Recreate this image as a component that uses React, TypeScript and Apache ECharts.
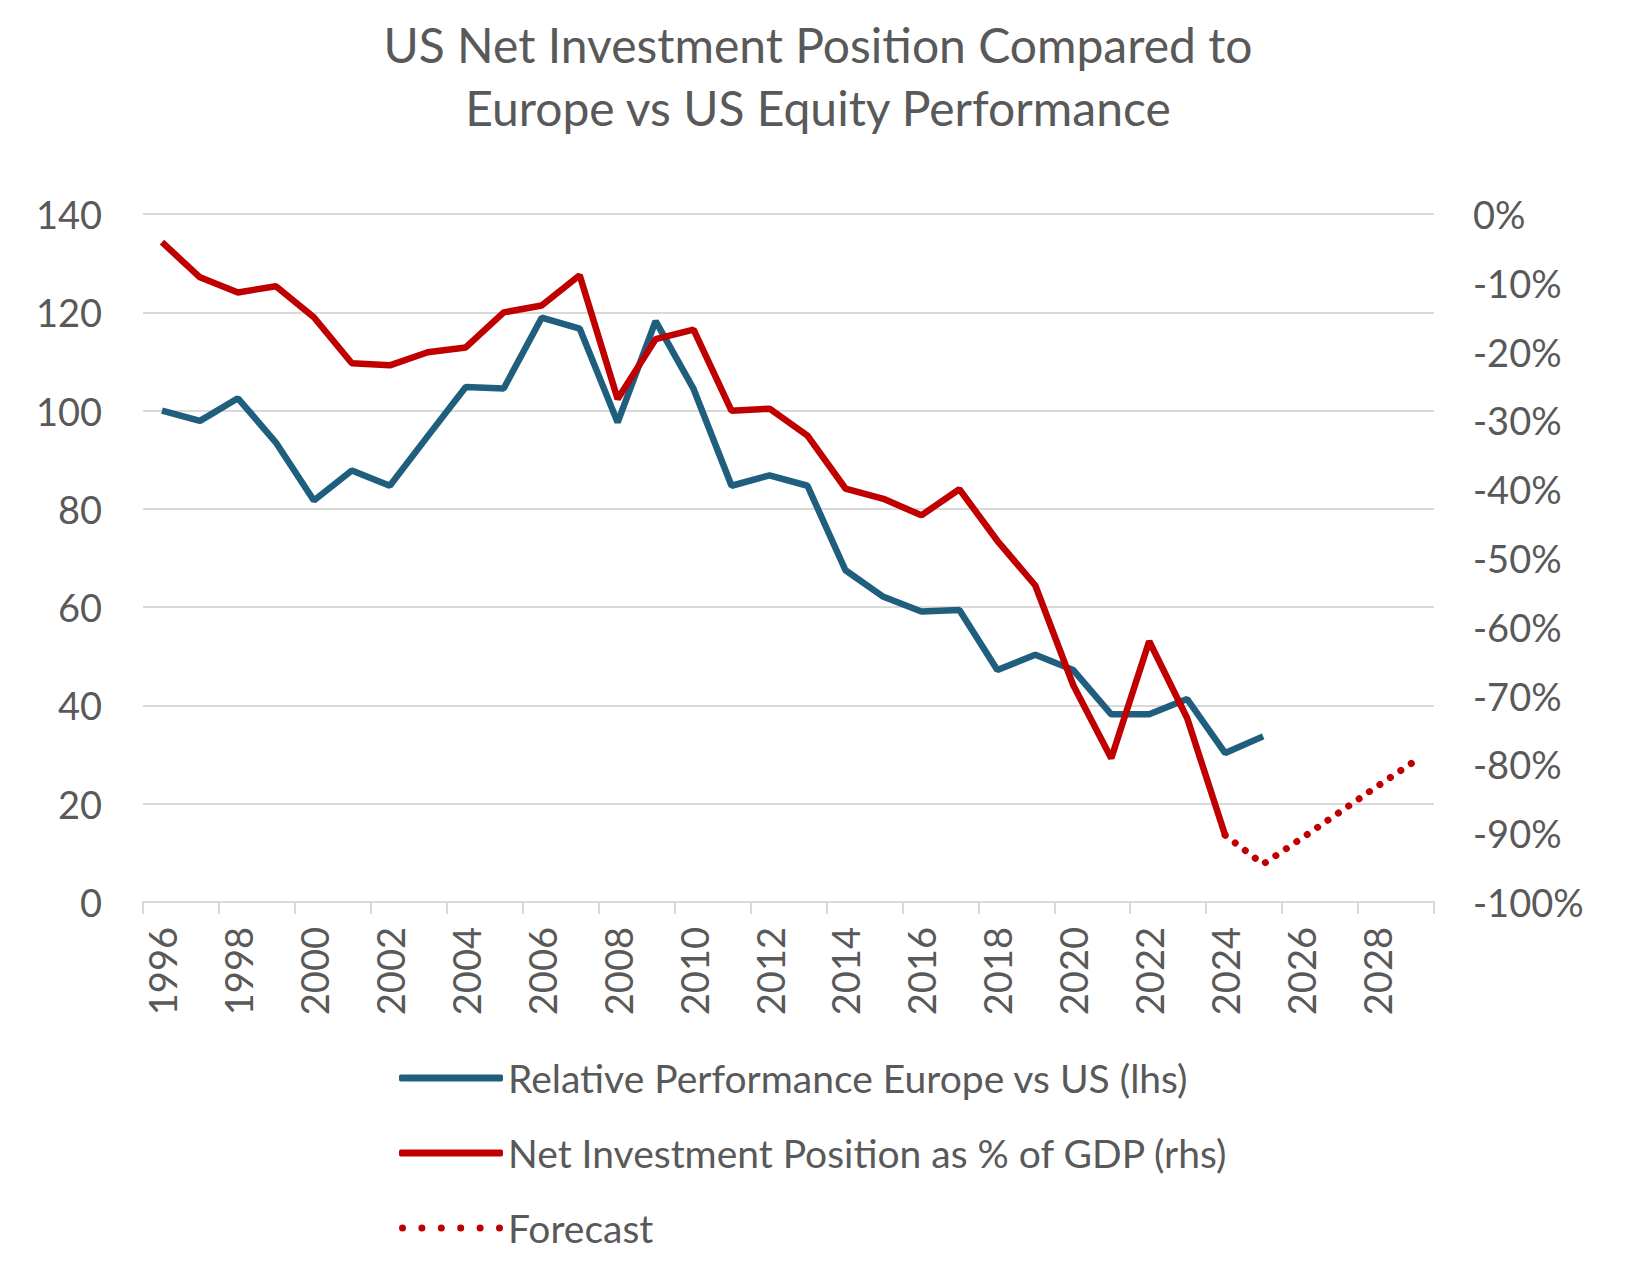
import React, { useEffect, useRef } from "react";
import * as echarts from "echarts";

const years = [
  "1996", "1997", "1998", "1999", "2000", "2001", "2002", "2003", "2004", "2005",
  "2006", "2007", "2008", "2009", "2010", "2011", "2012", "2013", "2014", "2015",
  "2016", "2017", "2018", "2019", "2020", "2021", "2022", "2023", "2024", "2025",
  "2026", "2027", "2028", "2029",
];

// Relative Performance Europe vs US (lhs), 1996–2025
const relativePerformance = [
  100.0, 97.9, 102.5, 93.5, 81.7, 87.8, 84.7, 94.8, 104.8, 104.5,
  118.9, 116.7, 97.6, 118.2, 104.4, 84.7, 86.8, 84.7, 67.5, 62.1,
  59.1, 59.4, 47.2, 50.3, 47.2, 38.2, 38.2, 41.3, 30.3, 33.7,
];

// Net Investment Position as % of GDP (rhs), 1996–2024
const netInvestment = [
  -4.1, -9.2, -11.4, -10.5, -15.0, -21.7, -22.0, -20.1, -19.4, -14.3,
  -13.3, -8.9, -26.9, -18.2, -16.8, -28.6, -28.3, -32.2, -39.9, -41.4,
  -43.8, -40.0, -47.5, -54.0, -68.5, -79.1, -62.1, -73.3, -90.3,
];

// Forecast (rhs), 2024–2029
const forecastYears = ["2024", "2025", "2026", "2027", "2028", "2029"];
const forecastValues = [-90.3, -94.5, -90.8, -87.0, -83.2, -79.5];

const leftTicks = { min: 0, max: 140, interval: 20 };
const rightTicks = { min: -100, max: 0, interval: 10 };

const BLUE = "#1f5f7d";
const RED = "#c00000";
const TEXT = "#595959";
const GRID = "#d9d9d9";
const FONT = 'Lato, "Noto Sans", sans-serif';

const NAME_BLUE = "Relative Performance Europe vs US (lhs)";
const NAME_RED = "Net Investment Position as % of GDP (rhs)";
const NAME_FC = "Forecast";

// six round dots for the forecast legend key
function dotsIcon(): string {
  const r = 3.5;
  let d = "";
  for (let k = 0; k < 6; k++) {
    const cx = r + k * 19.4;
    d += `M${cx - r} ${r}a${r} ${r} 0 1 0 ${2 * r} 0a${r} ${r} 0 1 0 ${-2 * r} 0Z`;
  }
  return "path://" + d;
}

export default function App() {
  const ref = useRef<HTMLDivElement>(null);

  useEffect(() => {
    if (!ref.current) return;
    const chart = echarts.init(ref.current, null, { renderer: "svg" });

    const forecast = years.map((y) => {
      const i = forecastYears.indexOf(y);
      return i >= 0 ? forecastValues[i] : null;
    });

    chart.setOption({
      animation: false,
      backgroundColor: "#ffffff",
      textStyle: { fontFamily: FONT },
      title: {
        text: "US Net Investment Position Compared to\nEurope vs US Equity Performance",
        left: "center",
        top: 0,
        padding: [5, 19, 5, 5],
        textStyle: {
          fontFamily: FONT,
          fontSize: 48,
          fontWeight: "normal",
          color: TEXT,
          lineHeight: 63,
        },
      },
      legend: {
        orient: "vertical",
        left: 386,
        top: 1045,
        itemWidth: 104,
        itemHeight: 7,
        itemGap: 35,
        textStyle: { fontFamily: FONT, fontSize: 39, color: TEXT, lineHeight: 40 },
        data: [
          { name: NAME_BLUE, icon: "roundRect", itemStyle: { color: BLUE } },
          { name: NAME_RED, icon: "roundRect", itemStyle: { color: RED } },
          { name: NAME_FC, icon: dotsIcon(), itemStyle: { color: RED } },
        ],
      },
      grid: { left: 135, right: 194, top: 206, bottom: 366, containLabel: false },
      xAxis: {
        type: "category",
        data: years,
        boundaryGap: true,
        axisLine: { show: true, lineStyle: { color: GRID, width: 2 } },
        axisTick: {
          show: true,
          interval: 1,
          length: 12,
          lineStyle: { color: GRID, width: 2 },
        },
        axisLabel: {
          interval: 1,
          rotate: 90,
          margin: 25,
          fontFamily: FONT,
          fontSize: 38,
          color: TEXT,
        },
        splitLine: { show: false },
      },
      yAxis: [
        {
          type: "value",
          min: leftTicks.min,
          max: leftTicks.max,
          interval: leftTicks.interval,
          axisLine: { show: false },
          axisTick: { show: false },
          axisLabel: { margin: 41, fontFamily: FONT, fontSize: 38, color: TEXT },
          splitLine: { show: true, lineStyle: { color: GRID, width: 2 } },
        },
        {
          type: "value",
          min: rightTicks.min,
          max: rightTicks.max,
          interval: rightTicks.interval,
          axisLine: { show: false },
          axisTick: { show: false },
          axisLabel: {
            margin: 39,
            fontFamily: FONT,
            fontSize: 38,
            color: TEXT,
            formatter: "{value}%",
          },
          splitLine: { show: false },
        },
      ],
      series: [
        {
          name: NAME_BLUE,
          type: "line",
          yAxisIndex: 0,
          data: relativePerformance,
          symbol: "none",
          showSymbol: false,
          itemStyle: { color: BLUE },
          lineStyle: { color: BLUE, width: 6.5 },
          z: 2,
        },
        {
          name: NAME_RED,
          type: "line",
          yAxisIndex: 1,
          data: netInvestment,
          symbol: "none",
          showSymbol: false,
          itemStyle: { color: RED },
          lineStyle: { color: RED, width: 6.5 },
          z: 3,
        },
        {
          name: NAME_FC,
          type: "line",
          yAxisIndex: 1,
          data: forecast,
          symbol: "none",
          showSymbol: false,
          itemStyle: { color: RED },
          lineStyle: { color: RED, width: 7, type: [0.1, 12.5], cap: "round" },
          z: 3,
        },
      ],
    });

    return () => chart.dispose();
  }, []);

  return <div ref={ref} style={{ width: 1620, height: 1260 }} />;
}
